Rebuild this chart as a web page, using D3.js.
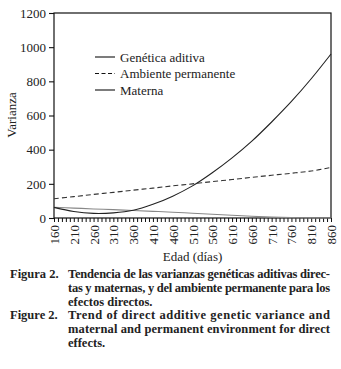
<!DOCTYPE html>
<html>
<head>
<meta charset="utf-8">
<script src="https://cdn.jsdelivr.net/npm/d3@7"></script>
<style>
  html, body { margin: 0; padding: 0; background: #fff; }
  svg { display: block; }
</style>
</head>
<body>
<div id="chart"></div>
<script>
(function () {
  "use strict";

  var FONT = "'Liberation Serif', 'DejaVu Serif', serif";

  // Data (days, variance)
  var days = [160, 210, 260, 310, 360, 410, 460, 510, 560, 610, 660, 710, 760, 810, 860];
  var genetica = [62, 38, 27, 30, 45, 80, 128, 188, 265, 352, 450, 562, 682, 815, 960];
  var ambiente = [113, 125, 138, 150, 163, 175, 188, 200, 213, 225, 238, 250, 262, 275, 296];
  var materna = [62, 58, 53, 49, 44, 39, 34, 28, 22, 16, 10, 5, 2, 0.5, 0];

  var yTicks = [0, 200, 400, 600, 800, 1000, 1200];
  var xLabelTicks = d3.range(160, 861, 50);
  var xMinorTicks = d3.range(160, 861, 10);

  var legendItems = [
    { label: "Genética aditiva", dash: null },
    { label: "Ambiente permanente", dash: "4,2.5" },
    { label: "Materna", dash: null }
  ];

  var captionLines = [
    { lead: "Figura 2.", text: "Tendencia de las varianzas genéticas aditivas direc-", justify: true },
    { lead: null, text: "tas y maternas, y del ambiente permanente para los", justify: true },
    { lead: null, text: "efectos directos.", justify: false },
    { lead: "Figure 2.", text: "Trend of direct additive genetic variance and", justify: true },
    { lead: null, text: "maternal and permanent environment for direct", justify: true },
    { lead: null, text: "effects.", justify: false }
  ];

  var W = 341, H = 369;
  var L = 54, R = 331, T = 13, B = 218;

  var svg = d3.select("#chart").append("svg")
    .attr("width", W).attr("height", H)
    .style("background", "#fff");

  var x = d3.scaleLinear().domain([160, 860]).range([L, R]);
  var y = d3.scaleLinear().domain([0, 1200]).range([B, T]);

  // Frame
  svg.append("rect")
    .attr("x", L).attr("y", T)
    .attr("width", R - L).attr("height", B - T)
    .attr("fill", "none").attr("stroke", "#111").attr("stroke-width", 1.2);

  // Y axis
  var yAxis = d3.axisLeft(y).tickValues(yTicks).tickSize(5).tickPadding(3).tickFormat(d3.format("d"));
  var gy = svg.append("g").attr("transform", "translate(" + L + ",0)").call(yAxis);
  gy.attr("font-family", FONT);
  gy.select(".domain").remove();
  gy.selectAll("line").attr("stroke", "#111").attr("stroke-width", 1.1);
  gy.selectAll("text").attr("font-family", FONT).attr("font-size", "13px").attr("fill", "#222");

  // X axis: minor ticks every 10 days, labels every 50
  var gxMinor = svg.append("g").attr("transform", "translate(0," + B + ")")
    .call(d3.axisBottom(x).tickValues(xMinorTicks).tickSize(4).tickFormat(""));
  gxMinor.select(".domain").remove();
  gxMinor.selectAll("line").attr("stroke", "#111").attr("stroke-width", 1);

  var gx = svg.append("g").attr("transform", "translate(0," + B + ")")
    .call(d3.axisBottom(x).tickValues(xLabelTicks).tickSize(0).tickFormat(d3.format("d")));
  gx.attr("font-family", FONT);
  gx.select(".domain").remove();
  gx.selectAll("text")
    .attr("font-family", FONT).attr("font-size", "13px").attr("fill", "#222")
    .attr("transform", "rotate(-90)")
    .attr("text-anchor", "end")
    .attr("x", -7).attr("y", 0).attr("dy", "0.35em");

  // Axis titles
  svg.append("text")
    .attr("x", (L + R) / 2).attr("y", 261)
    .attr("text-anchor", "middle")
    .attr("font-family", FONT).attr("font-size", "13px").attr("fill", "#222")
    .text("Edad (días)");
  svg.append("text")
    .attr("transform", "translate(16,115) rotate(-90)")
    .attr("text-anchor", "middle")
    .attr("font-family", FONT).attr("font-size", "13px").attr("fill", "#222")
    .text("Varianza");

  // Lines
  var line = d3.line().curve(d3.curveCatmullRom)
    .x(function (d, i) { return x(days[i]); })
    .y(function (d) { return y(d); });

  svg.append("path").datum(materna)
    .attr("d", line).attr("fill", "none")
    .attr("stroke", "#888").attr("stroke-width", 1.1);
  svg.append("path").datum(ambiente)
    .attr("d", line).attr("fill", "none")
    .attr("stroke", "#333").attr("stroke-width", 1.1)
    .attr("stroke-dasharray", "5,3");
  svg.append("path").datum(genetica)
    .attr("d", line).attr("fill", "none")
    .attr("stroke", "#222").attr("stroke-width", 1.1);

  // Legend
  legendItems.forEach(function (d, i) {
    var ly = 57 + i * 16.5;
    svg.append("line")
      .attr("x1", 95).attr("x2", 115).attr("y1", ly).attr("y2", ly)
      .attr("stroke", "#111").attr("stroke-width", 1.1)
      .attr("stroke-dasharray", d.dash);
    svg.append("text")
      .attr("x", 120).attr("y", ly + 4.5)
      .attr("font-family", FONT).attr("font-size", "13px").attr("fill", "#222")
      .text(d.label);
  });

  // Caption
  captionLines.forEach(function (d, i) {
    var cy = 278 + i * 13.8;
    if (d.lead) {
      svg.append("text")
        .attr("x", 10).attr("y", cy)
        .attr("font-family", FONT).attr("font-size", "12.5px").attr("font-weight", "bold")
        .attr("fill", "#222").text(d.lead);
    }
    var t = svg.append("text")
      .attr("x", 68).attr("y", cy)
      .attr("font-family", FONT).attr("font-size", "12.5px").attr("font-weight", "bold")
      .attr("fill", "#222").text(d.text);
    if (d.justify) t.attr("textLength", 330 - 68).attr("lengthAdjust", "spacing");
  });
})();
</script>
</body>
</html>
